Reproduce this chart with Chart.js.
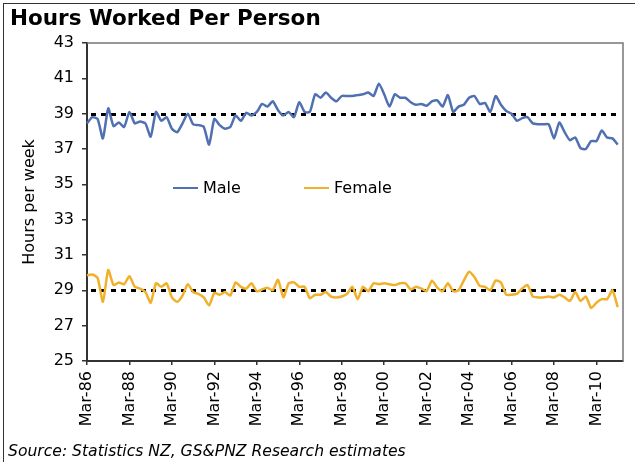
<!DOCTYPE html>
<html>
<head>
<meta charset="utf-8">
<script src="https://cdn.jsdelivr.net/npm/chart.js@4.4.1/dist/chart.umd.min.js"></script>
<style>
  html, body { margin: 0; padding: 0; background: #fff; }
  #wrap { position: relative; width: 635px; height: 462px; overflow: hidden; font-family: "DejaVu Sans", sans-serif; }
  #frame { position: absolute; left: 3px; top: 3px; width: 640px; height: 470px; border: 1px solid #333; box-sizing: border-box; }
  #title { position: absolute; left: 10px; top: 5px; font-size: 21.5px; font-weight: bold; color: #000; white-space: nowrap; }
  #source { position: absolute; left: 8px; top: 442px; font-size: 15.6px; font-style: italic; color: #000; white-space: nowrap; }
  canvas { position: absolute; left: 0; top: 0; }
</style>
</head>
<body>
<div id="wrap">
  <div id="frame"></div>
  <canvas id="chart" width="635" height="462"></canvas>
  <div id="title">Hours Worked Per Person</div>
  <div id="source">Source: Statistics NZ, GS&amp;PNZ Research estimates</div>
</div>
<script>
// Quarterly, Mar-86 to Mar-11
const months = ['Mar', 'Jun', 'Sep', 'Dec'];
const firstYear = 1986;
const quarterCount = 102;

const male = [
  38.45, 38.8, 38.7, 37.6, 39.3, 38.3, 38.5, 38.25, 39.1, 38.45,
  38.55, 38.45, 37.7, 39.1, 38.6, 38.8, 38.15, 37.95, 38.45, 39.0,
  38.4, 38.35, 38.25, 37.25, 38.7, 38.35, 38.15, 38.25, 38.9, 38.6,
  39.05, 38.9, 39.1, 39.55, 39.4, 39.7, 39.2, 38.9, 39.1, 38.8,
  39.65, 39.1, 39.1, 40.1, 39.9, 40.2, 39.9, 39.7, 40.0, 40.0,
  40.0, 40.05, 40.1, 40.2, 40.0, 40.7, 40.1, 39.4, 40.1, 39.9,
  39.9, 39.65, 39.5, 39.55, 39.45, 39.7, 39.75, 39.4, 40.05, 39.1,
  39.4, 39.5, 39.9, 40.0, 39.55, 39.6, 39.1, 40.0, 39.5, 39.15,
  39.0, 38.6, 38.75, 38.8, 38.45, 38.4, 38.4, 38.4, 37.6, 38.5,
  37.95, 37.5, 37.65, 37.05, 37.0, 37.45, 37.45, 38.05, 37.65, 37.6,
  37.25
];

const female = [
  29.85, 29.9, 29.7, 28.35, 30.15, 29.3, 29.45, 29.35, 29.8, 29.2,
  29.1, 28.9, 28.3, 29.4, 29.2, 29.4, 28.6, 28.35, 28.7, 29.35,
  28.9, 28.8, 28.6, 28.15, 28.85, 28.75, 28.9, 28.7, 29.45, 29.2,
  29.1, 29.4, 28.95, 29.05, 29.15, 29.0, 29.6, 28.6, 29.4, 29.45,
  29.2, 29.2, 28.55, 28.75, 28.75, 28.9, 28.65, 28.6, 28.65, 28.8,
  29.2, 28.5, 29.2, 28.95, 29.4, 29.35, 29.4, 29.35, 29.3, 29.4,
  29.4, 29.05, 29.2, 29.1, 28.95, 29.55, 29.15, 28.95, 29.4, 28.95,
  29.0, 29.55, 30.05, 29.75, 29.25, 29.2, 29.0, 29.55, 29.45, 28.75,
  28.75, 28.8, 29.1, 29.3, 28.65, 28.6, 28.6, 28.65, 28.6, 28.75,
  28.6, 28.4, 28.9, 28.4, 28.65, 28.0, 28.3, 28.5, 28.5, 29.0,
  28.05
];

// dotted reference levels
const refLines = [39, 29];

const labels = [];
for (let i = 0; i < quarterCount; i++) {
  const yr = (firstYear + Math.floor(i / 4)) % 100;
  labels.push(months[i % 4] + '-' + String(yr).padStart(2, '0'));
}

const FONT = '"DejaVu Sans", sans-serif';
const MALE_COL = '#5070b2';
const FEMALE_COL = '#f2b02a';

// reference lines, plot frame and in-plot legend
const extras = {
  id: 'extras',
  beforeDatasetsDraw(chart) {
    const { ctx, chartArea: a, scales: { y } } = chart;
    ctx.save();
    ctx.strokeStyle = '#000';
    ctx.lineWidth = 3;
    ctx.setLineDash([5, 5]);
    refLines.forEach(v => {
      const py = Math.round(y.getPixelForValue(v)) + 0.5;
      ctx.beginPath();
      ctx.moveTo(a.left + 4, py);
      ctx.lineTo(a.right - 2, py);
      ctx.stroke();
    });
    ctx.restore();
  },
  afterDraw(chart) {
    const { ctx, chartArea: a } = chart;
    ctx.save();
    ctx.strokeStyle = '#777';
    ctx.lineWidth = 1.5;
    ctx.beginPath();
    ctx.moveTo(a.left, a.top);
    ctx.lineTo(a.right, a.top);
    ctx.lineTo(a.right, a.bottom);
    ctx.stroke();

    const items = [
      { text: 'Male', color: MALE_COL, x: 173 },
      { text: 'Female', color: FEMALE_COL, x: 304 }
    ];
    ctx.font = '16px ' + FONT;
    ctx.textBaseline = 'middle';
    ctx.fillStyle = '#000';
    items.forEach(it => {
      ctx.strokeStyle = it.color;
      ctx.lineWidth = 2;
      ctx.beginPath();
      ctx.moveTo(it.x, 188);
      ctx.lineTo(it.x + 25, 188);
      ctx.stroke();
      ctx.fillText(it.text, it.x + 30, 189);
    });
    ctx.restore();
  }
};

new Chart(document.getElementById('chart'), {
  type: 'line',
  data: {
    labels: labels,
    datasets: [
      { label: 'Male', data: male, borderColor: MALE_COL, borderWidth: 2.5, pointRadius: 0, tension: 0.2, fill: false },
      { label: 'Female', data: female, borderColor: FEMALE_COL, borderWidth: 2.5, pointRadius: 0, tension: 0.2, fill: false }
    ]
  },
  options: {
    responsive: false,
    animation: false,
    layout: { padding: { left: 0, top: 43, right: 12, bottom: 0 } },
    plugins: {
      legend: { display: false },
      tooltip: { enabled: false }
    },
    scales: {
      x: {
        type: 'category',
        offset: false,
        afterFit(scale) { scale.height = 101; },
        border: { display: true, color: '#333', width: 2 },
        grid: {
          drawOnChartArea: false,
          drawTicks: true,
          tickLength: 4,
          color: '#333',
          lineWidth: 1.5
        },
        ticks: {
          autoSkip: false,
          maxRotation: 90,
          minRotation: 90,
          padding: 6,
          color: '#000',
          font: { family: FONT, size: 16 },
          callback: (v, i) => (i % 8 === 0 ? labels[i] : null)
        }
      },
      y: {
        min: 25,
        max: 43,
        afterFit(scale) { scale.width = 87; },
        border: { display: true, color: '#333', width: 2 },
        grid: {
          drawOnChartArea: false,
          drawTicks: true,
          tickLength: 5,
          color: '#333',
          lineWidth: 1.5
        },
        ticks: {
          stepSize: 2,
          padding: 8,
          color: '#000',
          font: { family: FONT, size: 16 }
        },
        title: {
          display: true,
          text: 'Hours per week',
          color: '#000',
          font: { family: FONT, size: 16 },
          padding: { top: 20, bottom: 0 }
        }
      }
    }
  },
  plugins: [extras]
});
</script>
</body>
</html>
